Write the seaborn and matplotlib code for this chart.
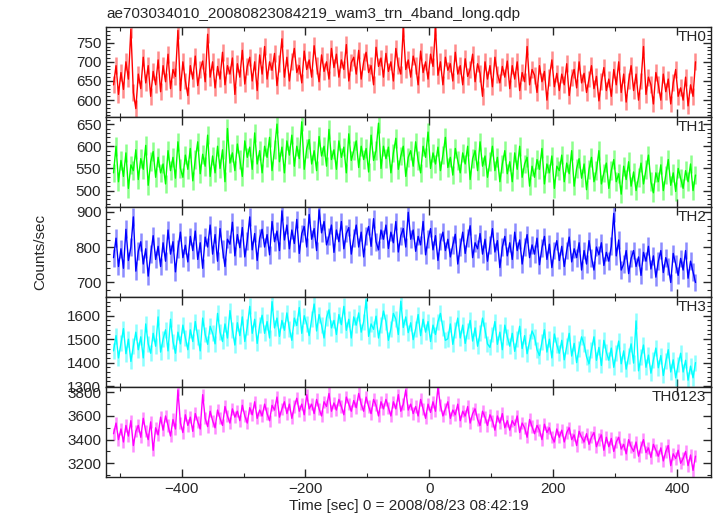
import numpy as np
import pandas as pd
import seaborn as sns
import matplotlib.pyplot as plt
from matplotlib.ticker import MultipleLocator

# time bins (sec from 2008/08/23 08:42:19), 4 s bins
t_start = -510.0
bin_sec = 4.0

th0 = [640, 690, 615, 672, 628, 700, 655, 785, 620, 578,
       668, 630, 712, 645, 690, 610, 675, 640, 705, 622,
       690, 648, 720, 630, 680, 662, 782, 625, 700, 650,
       612, 690, 655, 715, 638, 680, 702, 648, 772, 660,
       700, 632, 688, 655, 725, 640, 690, 668, 710, 615,
       695, 660, 730, 642, 688, 712, 650, 700, 625, 718,
       668, 740, 655, 700, 678, 722, 638, 695, 760, 660,
       712, 650, 700, 735, 672, 690, 645, 728, 680, 705,
       660, 742, 690, 648, 718, 675, 700, 655, 735, 685,
       720, 660, 705, 680, 745, 650, 698, 712, 668, 730,
       655, 700, 725, 672, 690, 640, 738, 688, 710, 660,
       722, 675, 700, 650, 735, 690, 668, 788, 680, 705,
       660, 715, 690, 640, 728, 672, 700, 655, 720, 688,
       790, 665, 700, 640, 712, 678, 695, 650, 725, 668,
       690, 640, 708, 662, 680, 720, 648, 695, 670, 610,
       700, 655, 690, 635, 712, 668, 645, 688, 660, 702,
       630, 690, 655, 700, 625, 672, 648, 740, 640, 680,
       665, 620, 690, 648, 675, 600, 660, 705, 635, 670,
       625, 668, 640, 695, 612, 660, 680, 632, 700, 645,
       670, 620, 655, 690, 630, 662, 598, 648, 685, 625,
       655, 610, 680, 640, 700, 620, 668, 595, 650, 690,
       625, 668, 600, 650, 740, 615, 660, 640, 590, 672,
       640, 600, 668, 622, 655, 590, 645, 680, 610, 632,
       600, 660, 585, 640, 610, 700]

th1 = [540, 600, 520, 568, 532, 585, 505, 558, 545, 592,
       525, 572, 548, 602, 512, 565, 588, 530, 575, 540,
       560, 515, 590, 545, 575, 528, 610, 550, 530, 580,
       548, 595, 522, 570, 610, 538, 582, 555, 625, 532,
       578, 540, 600, 550, 592, 520, 640, 562, 585, 545,
       605, 570, 532, 612, 575, 598, 548, 630, 560, 590,
       540, 600, 575, 620, 545, 592, 650, 565, 598, 540,
       612, 580, 625, 555, 600, 572, 655, 548, 595, 615,
       560, 590, 545, 622, 578, 600, 555, 638, 570, 592,
       548, 612, 575, 598, 540, 628, 568, 590, 612, 552,
       600, 570, 595, 542, 625, 568, 590, 652, 550, 600,
       572, 598, 540, 585, 618, 548, 578, 600, 532, 575,
       590, 555, 610, 568, 540, 600, 575, 632, 550, 585,
       560, 598, 545, 580, 620, 552, 575, 535, 595, 568,
       540, 585, 560, 600, 525, 572, 590, 545, 610, 555,
       578, 530, 565, 600, 545, 575, 520, 560, 590, 538,
       565, 520, 585, 548, 600, 530, 560, 575, 510, 555,
       530, 570, 548, 595, 515, 560, 540, 578, 505, 555,
       545, 580, 520, 562, 538, 590, 510, 550, 572, 528,
       560, 502, 548, 575, 520, 545, 590, 515, 540, 562,
       505, 545, 570, 520, 538, 492, 555, 525, 565, 510,
       542, 500, 530, 562, 515, 548, 580, 520, 495, 540,
       520, 558, 500, 535, 570, 512, 540, 498, 550, 528,
       505, 545, 520, 560, 500, 535]

th2 = [770, 825, 745, 795, 740, 850, 762, 800, 885, 732,
       788, 815, 752, 795, 718, 780, 832, 765, 802, 745,
       812, 760, 848, 780, 815, 730, 795, 842, 770, 805,
       758, 830, 790, 845, 765, 812, 740, 828, 800, 862,
       780, 835, 760, 852, 795, 745, 822, 808, 870, 775,
       835, 798, 855, 772, 818, 885, 792, 838, 762, 825,
       850, 800, 835, 778, 872, 815, 845, 790, 902, 820,
       862, 795, 848, 810, 878, 782, 838, 858, 800, 892,
       822, 852, 790, 905, 840, 872, 806, 830, 862, 785,
       848, 815, 872, 795, 838, 855, 780, 826, 862, 800,
       842, 772, 832, 858, 802, 880, 815, 792, 848, 822,
       862, 796, 842, 812, 872, 786, 832, 852, 800, 898,
       822, 848, 788, 830, 806, 872, 778, 822, 852, 792,
       832, 762, 816, 842, 790, 822, 772, 806, 836, 752,
       800, 842, 782, 826, 860, 770, 812, 795, 838, 780,
       822, 760, 805, 852, 786, 818, 742, 800, 830, 775,
       812, 765, 842, 790, 820, 752, 800, 835, 770, 806,
       780, 825, 750, 798, 830, 765, 808, 742, 790, 818,
       762, 802, 745, 790, 828, 758, 795, 770, 812, 735,
       790, 752, 818, 770, 735, 800, 778, 812, 748, 785,
       760, 802, 895, 775, 820, 735, 752, 790, 725, 768,
       790, 745, 772, 720, 785, 760, 802, 738, 775, 715,
       760, 790, 728, 770, 745, 700, 782, 752, 720, 768,
       735, 790, 712, 760, 730, 700]

th3 = [1450, 1515, 1420, 1482, 1545, 1438, 1500, 1405, 1470, 1530,
       1455, 1510, 1420, 1565, 1480, 1440, 1525, 1470, 1595, 1445,
       1500, 1540, 1450, 1585, 1490, 1440, 1530, 1480, 1560, 1505,
       1455, 1540, 1490, 1575, 1510, 1450, 1590, 1520, 1478, 1555,
       1525, 1480, 1610, 1530, 1490, 1565, 1505, 1622, 1540, 1475,
       1570, 1515, 1595, 1490, 1552, 1640, 1525, 1585, 1482, 1560,
       1602, 1525, 1575, 1505, 1660, 1548, 1590, 1512, 1580, 1538,
       1612, 1545, 1495, 1590, 1558, 1635, 1525, 1600, 1565, 1515,
       1585, 1650, 1535, 1605, 1560, 1505, 1592, 1625, 1548, 1580,
       1520, 1605, 1562, 1640, 1538, 1585, 1505, 1595, 1560, 1612,
       1530, 1575, 1668, 1512, 1565, 1542, 1598, 1505, 1560, 1620,
       1575, 1495, 1545, 1610, 1585, 1520, 1662, 1550, 1595, 1528,
       1570, 1498, 1545, 1605, 1515, 1585, 1530, 1575, 1490, 1560,
       1520, 1575, 1610, 1548, 1495, 1502, 1565, 1478, 1540, 1590,
       1505, 1560, 1482, 1535, 1580, 1492, 1548, 1470, 1525, 1590,
       1540, 1480, 1465, 1520, 1575, 1478, 1530, 1455, 1560, 1510,
       1470, 1525, 1448, 1500, 1555, 1460, 1515, 1438, 1490, 1535,
       1510, 1455, 1430, 1488, 1540, 1445, 1500, 1420, 1522, 1475,
       1440, 1495, 1412, 1470, 1525, 1428, 1482, 1400, 1460, 1510,
       1478, 1425, 1395, 1455, 1510, 1410, 1465, 1388, 1495, 1445,
       1410, 1462, 1380, 1440, 1492, 1395, 1450, 1372, 1428, 1480,
       1398, 1578, 1365, 1425, 1475, 1380, 1432, 1355, 1412, 1462,
       1378, 1430, 1345, 1405, 1455, 1360, 1412, 1335, 1392, 1440,
       1360, 1410, 1325, 1385, 1335, 1400]

th0123 = [3450, 3540, 3400, 3490, 3380, 3520, 3430, 3560, 3350, 3470,
          3520, 3420, 3580, 3470, 3400, 3550, 3310, 3500, 3440, 3590,
          3480, 3600, 3520, 3430, 3570, 3490, 3820, 3540, 3460, 3610,
          3520, 3590, 3470, 3620, 3550, 3490, 3780, 3580, 3510, 3640,
          3560, 3500, 3650, 3580, 3520, 3680, 3600, 3540, 3660, 3590,
          3640, 3560, 3690, 3600, 3540, 3670, 3610, 3720, 3580, 3650,
          3600, 3700, 3620, 3560, 3690, 3650, 3760, 3590, 3660, 3720,
          3620, 3700, 3580, 3680, 3750, 3640, 3700, 3610, 3780, 3660,
          3700, 3620, 3740, 3660, 3600, 3720, 3680, 3790, 3640, 3710,
          3650, 3740, 3680, 3610, 3760, 3700, 3640, 3730, 3670, 3790,
          3700, 3640, 3760, 3680, 3620, 3740, 3690, 3600, 3720, 3660,
          3740, 3670, 3600, 3720, 3660, 3780, 3640, 3700, 3820, 3650,
          3700, 3620, 3680, 3600, 3740, 3660, 3580, 3700, 3630, 3720,
          3640, 3840, 3690, 3600, 3660, 3720, 3580, 3650, 3610, 3700,
          3560, 3640, 3600, 3680, 3540, 3620, 3660, 3570, 3520, 3640,
          3590, 3520, 3610, 3560, 3480, 3600, 3540, 3620, 3500, 3560,
          3480, 3560, 3520, 3600, 3460, 3540, 3500, 3420, 3570, 3510,
          3450, 3520, 3480, 3400, 3530, 3460, 3500, 3420, 3380, 3490,
          3420, 3480, 3380, 3460, 3500, 3400, 3440, 3350, 3470, 3420,
          3380, 3450, 3360, 3420, 3460, 3340, 3400, 3440, 3310, 3420,
          3340, 3410, 3300, 3380, 3420, 3320, 3360, 3280, 3400, 3340,
          3300, 3380, 3260, 3340, 3400, 3290, 3330, 3250, 3360, 3310,
          3260, 3330, 3220, 3300, 3350, 3180, 3280, 3240, 3310, 3200,
          3240, 3300, 3180, 3270, 3140, 3260]

bands = ["TH0", "TH1", "TH2", "TH3", "TH0123"]
series = [th0, th1, th2, th3, th0123]
errors = [22, 21, 25, 34, 52]
colors = ["#ff0000", "#00ff00", "#0000ff", "#00ffff", "#ff00ff"]
ylims = [(556, 791), (463, 666), (659, 913), (1296, 1680), (3084, 3845)]
major_step = [50, 50, 100, 100, 200]
minor_step = [10, 10, 20, 20, 100]

sns.set_style("ticks")
plt.rcParams['font.family'] = ['Liberation Sans', 'DejaVu Sans']
plt.rcParams['font.size'] = 11

fig, axes = plt.subplots(5, 1, figsize=(7.17, 5.16), dpi=100, sharex=True)
fig.subplots_adjust(left=0.148, right=0.9916, top=0.9477, bottom=0.0756, hspace=0)

for ax, name, vals, err, col, yl, mj, mn in zip(axes, bands, series, errors, colors,
                                                  ylims, major_step, minor_step):
    vals = np.array(vals, dtype=float)
    t = t_start + bin_sec * np.arange(len(vals))
    df = pd.DataFrame({"time": t, "rate": vals})
    # pale error bars, then the light curve on top
    ax.vlines(df["time"], df["rate"] - err, df["rate"] + err, color=col, alpha=0.45, lw=1.8)
    sns.lineplot(data=df, x="time", y="rate", ax=ax, color=col, lw=1.0, estimator=None)
    ax.set_ylim(*yl)
    ax.set_xlim(-522, 455)
    ax.yaxis.set_major_locator(MultipleLocator(mj))
    ax.yaxis.set_minor_locator(MultipleLocator(mn))
    ax.xaxis.set_major_locator(MultipleLocator(200))
    ax.xaxis.set_minor_locator(MultipleLocator(100))
    ax.tick_params(which='both', direction='in', top=True, right=True, labelsize=11)
    ax.tick_params(which='major', length=6, width=1)
    ax.tick_params(which='minor', length=3, width=0.8)
    ax.set_xlabel("")
    ax.set_ylabel("")
    for s in ax.spines.values():
        s.set_linewidth(1.0)
        s.set_color("#222222")
    ax.text(0.992, 0.97, name, transform=ax.transAxes, ha='right', va='top', fontsize=11)

axes[-1].set_xticks([-400, -200, 0, 200, 400])
axes[-1].set_xticklabels(["\u2212400", "\u2212200", "0", "200", "400"])
axes[-1].set_xlabel("Time [sec] 0 = 2008/08/23 08:42:19", fontsize=11, labelpad=2)
fig.text(0.056, 0.512, "Counts/sec", rotation=90, ha='center', va='center', fontsize=11)
fig.text(0.149, 0.972, "ae703034010_20080823084219_wam3_trn_4band_long.qdp",
         ha='left', va='center', fontsize=11)

fig.savefig("out.png", dpi=100)
